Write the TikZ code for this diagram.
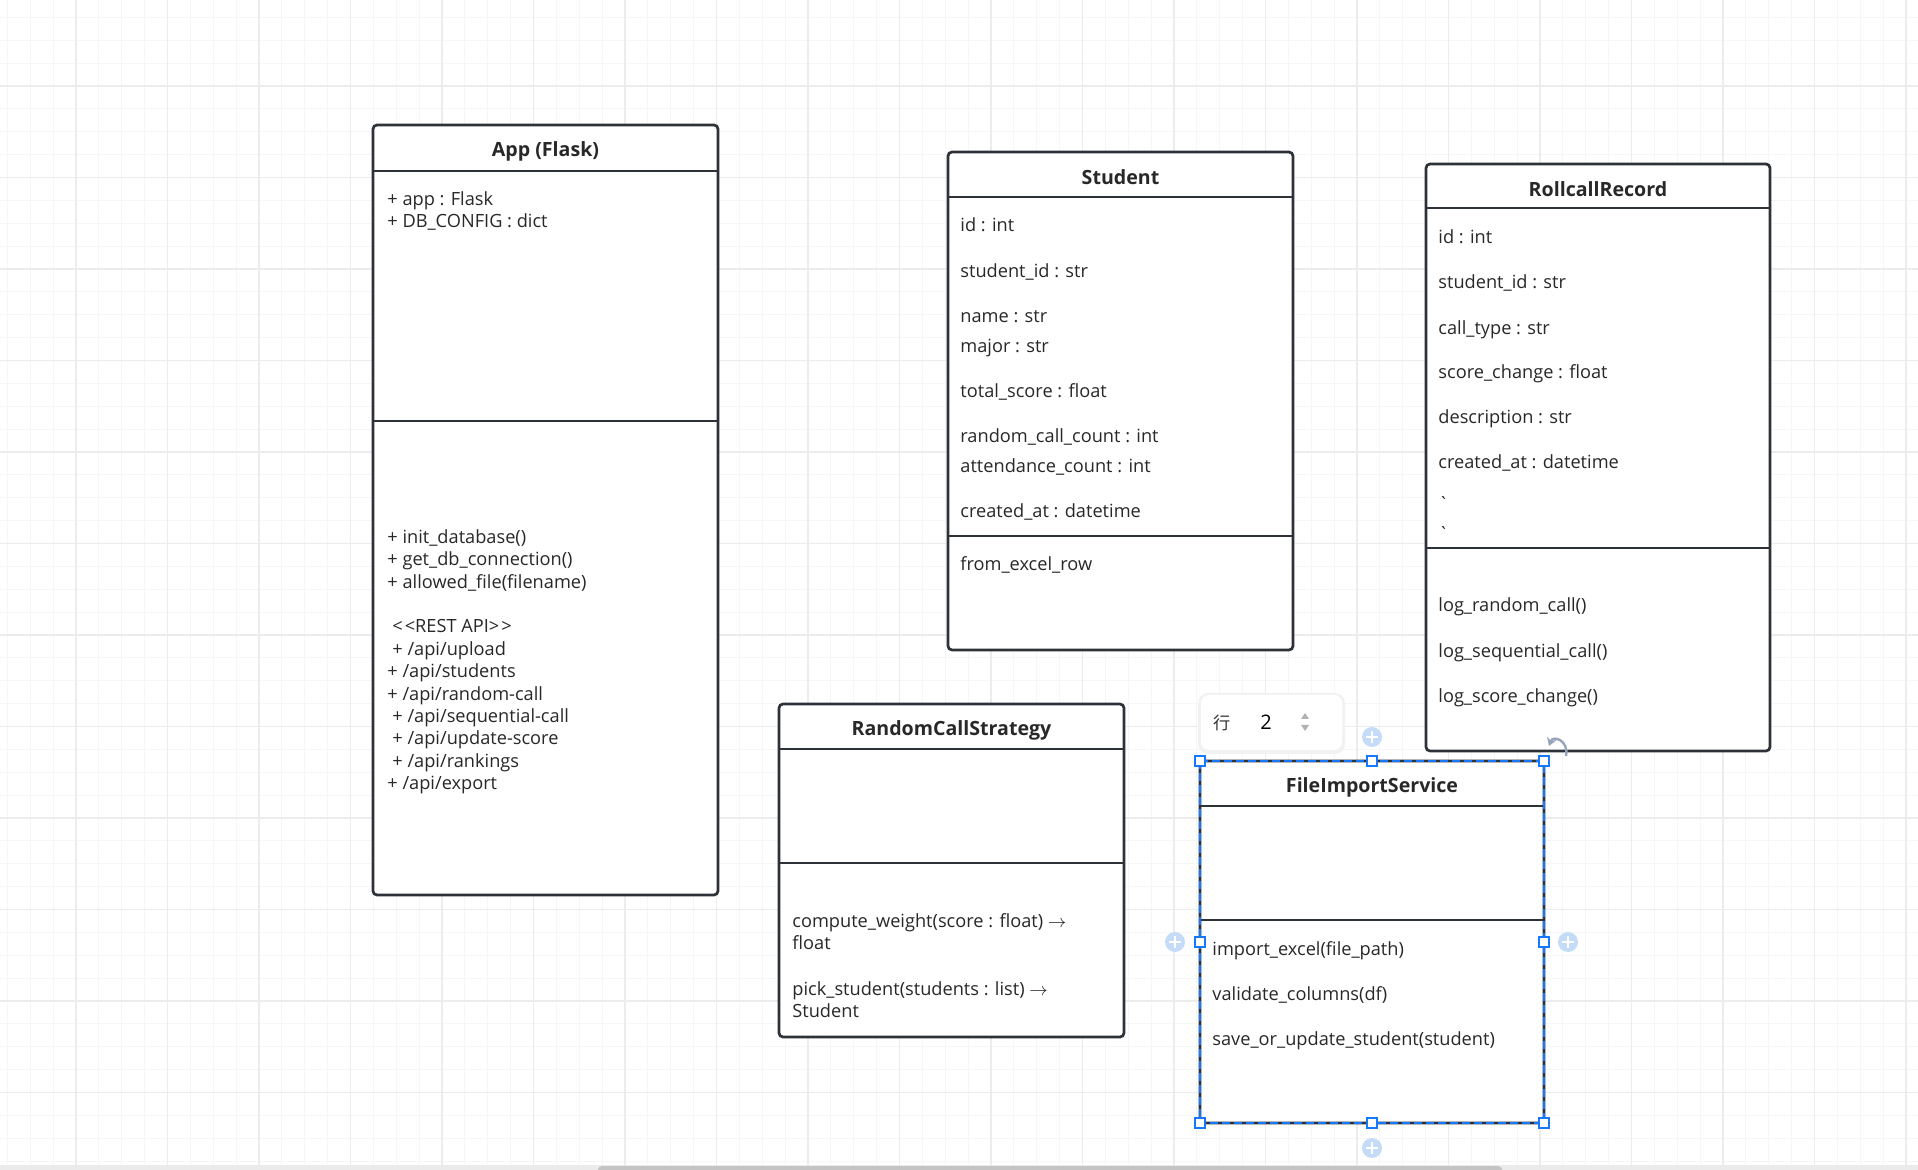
\documentclass[tikz,border=0pt]{standalone}
\usepackage{fontspec}
\setmainfont{Open Sans}
\newfontfamily\cjk{Noto Sans CJK SC}
\usetikzlibrary{arrows.meta}
\definecolor{boxc}{RGB}{45,50,56}
\definecolor{txtc}{RGB}{40,40,40}
\definecolor{gridminor}{RGB}{246,246,246}
\definecolor{gridmajor}{RGB}{236,236,236}
\definecolor{selc}{RGB}{22,119,255}
\definecolor{plusc}{RGB}{196,220,248}
\definecolor{iconc}{RGB}{150,165,185}

\begin{document}
\begin{tikzpicture}[x=0.5pt,y=-0.5pt,>=Stealth,
  classbox/.style={draw=boxc,line width=1.35pt,rounded corners=2pt,fill=white},
  sepline/.style={draw=boxc,line width=1.25pt},
  title/.style={inner sep=0pt,yshift=-1pt,text=txtc,font=\fontsize{9.8}{11}\selectfont\bfseries},
  member/.style={anchor=west,inner sep=0pt,yshift=-1.2pt,text=txtc,text height=0.72em,text depth=0.22em,font=\fontsize{9.1}{11}\selectfont},
  handle/.style={draw=selc,line width=0.6pt,fill=white}]
  \useasboundingbox (0,0) rectangle (1918,1170);
  \fill[white] (0,0) rectangle (1918,1170);
  \foreach \i in {0,...,83} \draw[gridminor,line width=0.5pt] ({7.375+22.875*\i},0) -- ++(0,1165);
  \foreach \i in {0,...,50} \draw[gridminor,line width=0.5pt] (0,{17.375+22.875*\i}) -- ++(1918,0);
  \foreach \i in {0,...,20} \draw[gridmajor,line width=0.65pt] ({76+91.5*\i},0) -- ++(0,1165);
  \foreach \i in {0,...,11} \draw[gridmajor,line width=0.65pt] (0,{86+91.5*\i}) -- ++(1918,0);
  \fill[black!8] (0,1165) rectangle (1918,1170);
  \fill[black!23,rounded corners=2pt] (598,1166) rectangle (1502,1172);

  \draw[classbox] (373,125) rectangle (718,895);
  \draw[sepline] (373,171) -- (718,171) (373,421) -- (718,421);
  \node[title] (app) at (545.5,149) {App (Flask)};
  \node[member] (app-a1) at (387,198) {+ app : Flask};
  \node[member] (app-a2) at (387,220) {+ DB\_CONFIG : dict};
  \node[member] (app-m1) at (387,536) {+ init\_database()};
  \node[member] (app-m2) at (387,558) {+ get\_db\_connection()};
  \node[member] (app-m3) at (387,581) {+ allowed\_file(filename)};
  \node[member] (app-rest) at (392,625) {\textless\kern1pt\textless REST API\textgreater\kern1pt\textgreater};
  \node[member] (app-r1) at (392,648) {+ /api/upload};
  \node[member] (app-r2) at (387,670) {+ /api/students};
  \node[member] (app-r3) at (387,693) {+ /api/random-call};
  \node[member] (app-r4) at (392,715) {+ /api/sequential-call};
  \node[member] (app-r5) at (392,737) {+ /api/update-score};
  \node[member] (app-r6) at (392,760) {+ /api/rankings};
  \node[member] (app-r7) at (387,782) {+ /api/export};

  \draw[classbox] (948,152) rectangle (1293,650);
  \draw[sepline] (948,197) -- (1293,197) (948,536) -- (1293,536);
  \node[title] (student) at (1120.5,175) {Student};
  \node[member] (student-a1) at (960,224) {id : int};
  \node[member] (student-a2) at (960,270) {student\_id : str};
  \node[member] (student-a3) at (960,315) {name : str};
  \node[member] (student-a4) at (960,345) {major : str};
  \node[member] (student-a5) at (960,390) {total\_score : float};
  \node[member] (student-a6) at (960,435) {random\_call\_count : int};
  \node[member] (student-a7) at (960,465) {attendance\_count : int};
  \node[member] (student-a8) at (960,510) {created\_at : datetime};
  \node[member] (student-m1) at (960,563) {from\_excel\_row};

  \draw[classbox] (1426,164) rectangle (1770,751);
  \draw[sepline] (1426,208) -- (1770,208) (1426,548) -- (1770,548);
  \node[title] (record) at (1598,187) {RollcallRecord};
  \node[member] (record-a1) at (1438,236) {id : int};
  \node[member] (record-a2) at (1438,281) {student\_id : str};
  \node[member] (record-a3) at (1438,327) {call\_type : str};
  \node[member] (record-a4) at (1438,371) {score\_change : float};
  \node[member] (record-a5) at (1438,416) {description : str};
  \node[member] (record-a6) at (1438,461) {created\_at : datetime};
  \node[member] (record-a7) at (1438,503) {\textasciigrave};
  \node[member] (record-a8) at (1438,533) {\textasciigrave};
  \node[member] (record-m1) at (1438,604) {log\_random\_call()};
  \node[member] (record-m2) at (1438,650) {log\_sequential\_call()};
  \node[member] (record-m3) at (1438,695) {log\_score\_change()};

  \draw[classbox] (779,704) rectangle (1124,1037);
  \draw[sepline] (779,749) -- (1124,749) (779,863) -- (1124,863);
  \node[title] (strategy) at (951.5,728) {RandomCallStrategy};
  \node[member] (strategy-m1) at (792,920) {compute\_weight(score : float) $\rightarrow$};
  \node[member] (strategy-m1b) at (792,942) {float};
  \node[member] (strategy-m2) at (792,988) {pick\_student(students : list) $\rightarrow$};
  \node[member] (strategy-m2b) at (792,1010) {Student};

  \draw[classbox] (1200,761) rectangle (1544,1123);
  \draw[sepline] (1200,806) -- (1544,806) (1200,920) -- (1544,920);
  \node[title] (import) at (1372,785) {FileImportService};
  \node[member] (import-m1) at (1212,948) {import\_excel(file\_path)};
  \node[member] (import-m2) at (1212,993) {validate\_columns(df)};
  \node[member] (import-m3) at (1212,1038) {save\_or\_update\_student(student)};

  \draw[selc,line width=0.6pt,dash pattern=on 4pt off 2pt] (1200,761) rectangle (1544,1123);
  \foreach \hx/\hy in {1200/761,1372/761,1544/761,1200/942,1544/942,1200/1123,1372/1123,1544/1123}
    \draw[handle] (\hx-5,\hy-5) rectangle ++(10,10);
  \foreach \cx/\cy in {1372/737,1372/1148,1175/942,1568/942} {
    \fill[plusc] (\cx,\cy) circle[radius=10];
    \draw[white,line width=1pt] (\cx-6,\cy) -- (\cx+6,\cy) (\cx,\cy-6) -- (\cx,\cy+6);
  }
  \draw[iconc,line width=1.2pt,-{Stealth[length=4pt,width=5pt]}] (1566,756) .. controls (1569,740) and (1553,735) .. (1549,746);

  \fill[black!5,rounded corners=5pt] (1198,693) rectangle (1345,754);
  \fill[white,rounded corners=4pt] (1201,695) rectangle (1342,750);
  \node[inner sep=0pt,text=black!80,font=\cjk\fontsize{8.6}{10}\selectfont] (rowlabel) at (1222,723) {行};
  \node[inner sep=0pt,font=\fontsize{10}{12}\selectfont] (rowcount) at (1266,722) {2};
  \fill[black!30] (1301,719) -- (1309,719) -- (1305,713) -- cycle;
  \fill[black!30] (1301,725) -- (1309,725) -- (1305,731) -- cycle;
\end{tikzpicture}
\end{document}
